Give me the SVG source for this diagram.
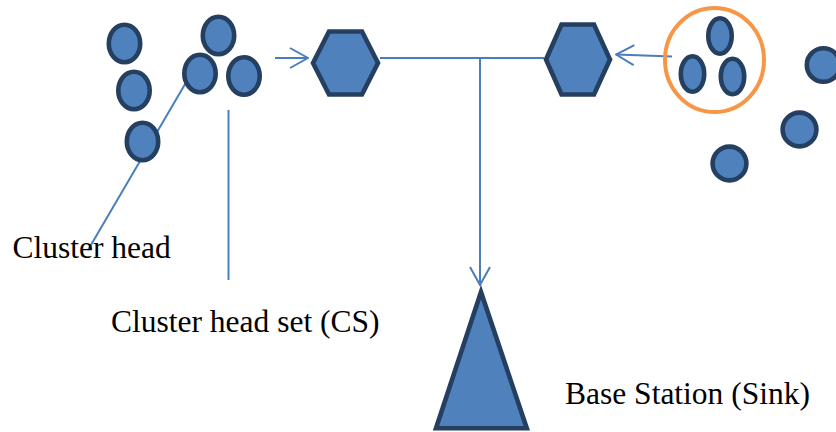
<svg xmlns="http://www.w3.org/2000/svg" width="836" height="432" viewBox="0 0 836 432">
  <style>
    .node { fill: #4F81BD; stroke: #243F60; stroke-width: 4.6; }
    .ring { fill: none; stroke: #F79646; stroke-width: 4; }
    .link { fill: none; stroke: #4A7EBB; stroke-width: 2; }
    .label { font-family: "Liberation Serif", "Times New Roman", serif; font-size: 31.5px; fill: #000; }
  </style>
  <defs>
    <marker id="open-arrow" viewBox="0 0 20 24" refX="19" refY="12" markerWidth="20" markerHeight="24" markerUnits="userSpaceOnUse" orient="auto">
      <path d="M1,2 L19,12 L1,22" fill="none" stroke="#4A7EBB" stroke-width="2"/>
    </marker>
  </defs>

  <rect width="836" height="432" fill="#fff"/>

  <!-- connectors -->
  <g id="connectors">
    <line class="link" x1="198" y1="62" x2="88" y2="250"/>
    <line class="link" x1="228.5" y1="110" x2="228.5" y2="280"/>
    <line class="link" x1="275" y1="58" x2="308" y2="58" marker-end="url(#open-arrow)"/>
    <line class="link" x1="380" y1="58" x2="544" y2="58"/>
    <line class="link" x1="672" y1="56.5" x2="616" y2="54.5" marker-end="url(#open-arrow)"/>
    <line class="link" x1="480" y1="58" x2="480" y2="285" marker-end="url(#open-arrow)"/>
  </g>

  <!-- left sensor group -->
  <g id="node-left-1"><ellipse class="node" cx="124.5" cy="43.5" rx="15.7" ry="18.7"/></g>
  <g id="node-left-2"><ellipse class="node" cx="134" cy="90.5" rx="15.7" ry="18.7"/></g>
  <g id="node-left-3"><ellipse class="node" cx="142.5" cy="141.5" rx="15.7" ry="18.7"/></g>
  <g id="node-cs-1"><ellipse class="node" cx="218.5" cy="35.5" rx="15.7" ry="18.7"/></g>
  <g id="node-cs-2"><ellipse class="node" cx="200" cy="73.5" rx="15.7" ry="18.7"/></g>
  <g id="node-cs-3"><ellipse class="node" cx="244" cy="76" rx="15.7" ry="18.7"/></g>

  <!-- hexagon relays -->
  <g id="relay-left"><polygon class="node" points="313,63 329,31.5 362,31.5 378,63 362,94.5 329,94.5"/></g>
  <g id="relay-right"><polygon class="node" points="546,59.5 561.5,24.5 594,24.5 610,59.5 594,94.5 561.5,94.5"/></g>

  <!-- right cluster head set -->
  <g id="cluster-right">
    <ellipse class="ring" cx="714.5" cy="60" rx="49.5" ry="52"/>
    <ellipse class="node" cx="720" cy="36" rx="11.7" ry="17.7"/>
    <ellipse class="node" cx="692.5" cy="74" rx="11.7" ry="17.7"/>
    <ellipse class="node" cx="732.5" cy="76.5" rx="11.7" ry="17.7"/>
  </g>

  <!-- right sensors -->
  <g id="node-right-1"><circle class="node" cx="823.5" cy="65" r="16.7"/></g>
  <g id="node-right-2"><circle class="node" cx="799.5" cy="129.5" r="16.9"/></g>
  <g id="node-right-3"><circle class="node" cx="729.5" cy="163.5" r="16.9"/></g>

  <!-- sink -->
  <g id="base-station"><polygon class="node" points="481,292 436,428.3 526.8,428.3"/></g>

  <!-- labels -->
  <g id="labels">
    <text class="label" x="12.5" y="257.5">Cluster head</text>
    <text class="label" x="111" y="331.5">Cluster head set (CS)</text>
    <text class="label" x="565" y="404">Base Station (Sink)</text>
  </g>
</svg>
